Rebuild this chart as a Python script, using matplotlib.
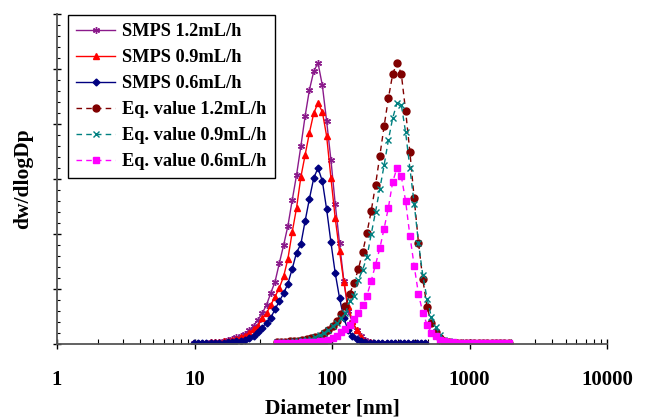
import matplotlib
matplotlib.use("Agg")
import matplotlib.pyplot as plt
from matplotlib.ticker import LogLocator, FixedLocator, MultipleLocator, NullFormatter, FixedFormatter

# ---------------- data ----------------
smps_d = [9.86, 10.6, 11.3, 12.2, 13.1, 14.1, 15.1, 16.3, 17.5, 18.8, 20.2, 21.7, 23.3, 25.0,
          26.9, 28.9, 31.1, 33.4, 35.9, 38.5, 41.4, 44.5, 47.8, 51.4, 55.2, 59.4, 63.8, 68.5,
          73.7, 79.1, 85.1, 91.4, 98.2, 105.5, 113.4, 121.9, 131.0, 140.7, 151.2, 162.5, 174.7,
          187.7, 201.7, 216.7, 232.9, 250.3, 269.0, 289.0, 310.6, 333.8, 358.7, 385.4, 414.2,
          445.1, 478.3]

smps_12 = [0.01, 0.01, 0.02, 0.02, 0.03, 0.03, 0.04, 0.05, 0.07, 0.10, 0.12, 0.15, 0.18, 0.25,
           0.33, 0.44, 0.56, 0.71, 0.93, 1.13, 1.47, 1.80, 2.15, 2.62, 3.07, 3.60, 4.15, 4.62,
           4.96, 5.11, 4.70, 4.05, 3.35, 2.55, 1.84, 1.15, 0.60, 0.40, 0.25, 0.15, 0.07,
           0.04, 0.02, 0.02, 0.01, 0.01, 0.01, 0.01, 0.01, 0.01, 0.01, 0.01, 0.01,
           0.01, 0.01]

smps_09 = [0.01, 0.01, 0.02, 0.02, 0.03, 0.03, 0.04, 0.05, 0.06, 0.08, 0.10, 0.12, 0.15, 0.20,
           0.27, 0.33, 0.47, 0.56, 0.71, 0.86, 1.02, 1.23, 1.55, 2.04, 2.47, 3.04, 3.44, 3.84,
           4.20, 4.38, 4.22, 3.78, 3.02, 2.29, 1.69, 1.13, 0.69, 0.42, 0.25, 0.13, 0.05,
           0.03, 0.02, 0.01, 0.01, 0.01, 0.01, 0.01, 0.01, 0.01, 0.01, 0.01, 0.01,
           0.01, 0.01]

smps_06 = [0.01, 0.01, 0.01, 0.01, 0.01, 0.02, 0.02, 0.02, 0.03, 0.04, 0.05, 0.06, 0.07, 0.11,
           0.15, 0.22, 0.30, 0.39, 0.48, 0.63, 0.78, 0.92, 1.10, 1.37, 1.66, 1.82, 2.24, 2.64,
           3.02, 3.20, 2.96, 2.45, 1.85, 1.29, 0.84, 0.47, 0.25, 0.15, 0.09, 0.06, 0.04,
           0.02, 0.02, 0.01, 0.01, 0.01, 0.01, 0.01, 0.01, 0.01, 0.01, 0.01, 0.01,
           0.01, 0.01]

eq_d = [39.6, 42.6, 45.7, 49.2, 52.8, 56.8, 61.0, 65.5, 70.4, 75.7, 81.3, 87.4, 93.9, 100.9,
        108.5, 116.5, 125.2, 134.6, 144.6, 155.4, 167.0, 179.5, 192.9, 207.2, 222.7, 239.3,
        257.2, 276.4, 297.0, 319.2, 343.0, 368.5, 396.0, 425.6, 457.3, 491.5, 528.2, 567.6,
        609.9, 655.4, 704.3, 756.8, 813.3, 874.0, 939.2, 1009.3, 1084.6, 1165.5, 1252.4,
        1345.9, 1446.3, 1554.2, 1670.1, 1794.8, 1928.7]

eq_12 = [0.03, 0.04, 0.04, 0.05, 0.05, 0.06, 0.07, 0.09, 0.11, 0.13, 0.15, 0.20, 0.25, 0.33,
         0.41, 0.55, 0.69, 0.91, 1.11, 1.36, 1.67, 2.02, 2.42, 2.89, 3.42, 3.96, 4.47, 4.91,
         5.11, 4.91, 4.24, 3.49, 2.65, 1.84, 1.18, 0.67, 0.38, 0.22, 0.11, 0.05, 0.03,
         0.02, 0.02, 0.01, 0.01, 0.01, 0.01, 0.01, 0.01, 0.01, 0.01, 0.01, 0.01, 0.01, 0.01]

eq_09 = [0.03, 0.03, 0.04, 0.04, 0.05, 0.06, 0.07, 0.08, 0.10, 0.13, 0.16, 0.20, 0.26, 0.32,
         0.38, 0.47, 0.56, 0.78, 0.88, 1.16, 1.35, 1.58, 2.00, 2.40, 2.82, 3.25, 3.71, 4.11,
         4.38, 4.35, 3.85, 3.20, 2.55, 1.84, 1.25, 0.82, 0.49, 0.31, 0.16, 0.08, 0.05,
         0.03, 0.02, 0.02, 0.01, 0.01, 0.01, 0.01, 0.01, 0.01, 0.01, 0.01, 0.01, 0.01, 0.01]

eq_06 = [0.01, 0.01, 0.02, 0.02, 0.02, 0.02, 0.03, 0.03, 0.03, 0.04, 0.05, 0.06, 0.08, 0.11,
         0.14, 0.21, 0.27, 0.34, 0.45, 0.57, 0.71, 0.88, 1.15, 1.44, 1.74, 2.10, 2.48, 2.95,
         3.20, 3.05, 2.60, 1.97, 1.42, 0.91, 0.57, 0.35, 0.20, 0.14, 0.08, 0.05, 0.04,
         0.03, 0.02, 0.02, 0.02, 0.01, 0.01, 0.01, 0.01, 0.01, 0.01, 0.01, 0.01, 0.01, 0.01]

labels = ["SMPS 1.2mL/h", "SMPS 0.9mL/h", "SMPS 0.6mL/h",
          "Eq. value 1.2mL/h", "Eq. value 0.9mL/h", "Eq. value 0.6mL/h"]
xtick_vals = [1, 10, 100, 1000, 10000]
xtick_labels = ["1", "10", "100", "1000", "10000"]

# ---------------- figure ----------------
serif = ["Liberation Serif", "DejaVu Serif"]
fig = plt.figure(figsize=(6.45, 4.19), dpi=100)
ax = fig.add_axes([57 / 645, 75 / 419, 550 / 645, 330 / 419])

star = (6, 2, 0)
ax.plot(smps_d, smps_12, color="#8B1A8B", lw=1.0, marker=star, ms=5, mew=1.0,
        label=labels[0])
ax.plot(smps_d, smps_09, color="#FF0000", lw=1.0, marker="^", ms=5, label=labels[1])
ax.plot(smps_d, smps_06, color="#000080", lw=1.0, marker="D", ms=3.5, label=labels[2])
ax.plot(eq_d, eq_12, color="#800000", lw=1.0, ls=(0, (4, 3)), marker="o", ms=5,
        label=labels[3])
ax.plot(eq_d, eq_09, color="#008080", lw=1.0, ls=(0, (4, 3)), marker="x", ms=5, mew=1.0,
        label=labels[4])
ax.plot(eq_d, eq_06, color="#FF00FF", lw=1.0, ls=(0, (4, 3)), marker="s", ms=5,
        label=labels[5])

ax.set_xscale("log")
ax.set_xlim(1, 10000)
ax.set_ylim(0, 6)

for s in ("top", "right"):
    ax.spines[s].set_visible(False)
for s in ("left", "bottom"):
    ax.spines[s].set_color("#555555")
    ax.spines[s].set_linewidth(1.3)

ax.xaxis.set_major_locator(FixedLocator(xtick_vals))
ax.xaxis.set_major_formatter(FixedFormatter(xtick_labels))
ax.xaxis.set_minor_locator(LogLocator(base=10, subs=range(2, 10), numticks=20))
ax.xaxis.set_minor_formatter(NullFormatter())
ax.yaxis.set_major_locator(MultipleLocator(1))
ax.yaxis.set_minor_locator(MultipleLocator(0.2))
ax.yaxis.set_major_formatter(NullFormatter())

ax.tick_params(axis="x", which="major", direction="inout", length=7, width=1, color="black",
               pad=15)
ax.tick_params(axis="x", which="minor", direction="in", length=3.5, width=0.8, color="black")
ax.tick_params(axis="y", which="major", direction="inout", length=6, width=1, color="black")
ax.tick_params(axis="y", which="minor", direction="in", length=2.5, width=0.8, color="black")

for t in ax.get_xticklabels():
    t.set_fontfamily(serif)
    t.set_fontweight("bold")
    t.set_fontsize(15)

ax.set_xlabel("Diameter [nm]", fontfamily=serif, fontweight="bold", fontsize=15.5, labelpad=6)
ax.set_ylabel("dw/dlogDp", fontfamily=serif, fontweight="bold", fontsize=15.5, labelpad=11)

leg = ax.legend(loc="upper left", bbox_to_anchor=(11 / 550, 1.0 - 1 / 330),
                prop={"family": serif, "weight": "bold", "size": 13.2},
                frameon=True, fancybox=False, edgecolor="black", framealpha=1,
                handlelength=2.1, handletextpad=0.4, labelspacing=0.49,
                borderpad=0.45, borderaxespad=0.0)
leg.get_frame().set_linewidth(1.0)

fig.savefig("out.png", dpi=100)
